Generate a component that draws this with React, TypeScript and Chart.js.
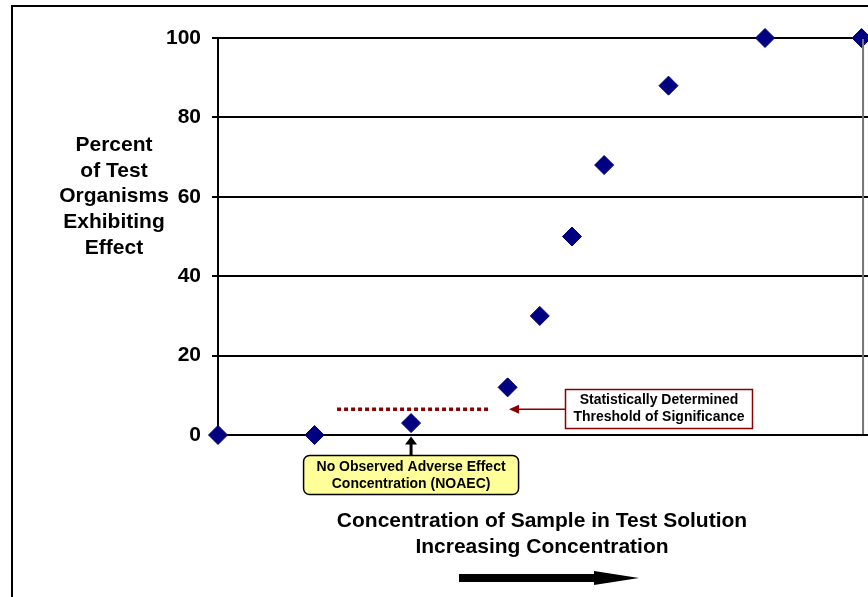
import React, { useEffect, useRef } from "react";
import { Chart, registerables } from "chart.js";

Chart.register(...registerables);

// ---- data ----
const concentrations = [0, 3, 6, 9, 10, 11, 12, 14, 17, 20];
const percentEffect = [0, 0, 3, 12, 30, 50, 68, 88, 100, 100];
const yTickValues = [0, 20, 40, 60, 80, 100];
const thresholdLevel = 6.5;
const thresholdRange = [3.7, 8.45];
const noaecConcentration = 6;
const yTitleLines = ["Percent", "of Test", "Organisms", "Exhibiting", "Effect"];
const xTitleLines = ["Concentration of Sample in Test Solution", "Increasing Concentration"];
const thresholdLabel = ["Statistically Determined", "Threshold of Significance"];
const noaecLabel = ["No Observed Adverse Effect", "Concentration (NOAEC)"];

const FONT = "'Liberation Sans', Arial, Helvetica, sans-serif";
const NAVY = "#000080";
const DARK_RED = "#8B0000";

const annotationPlugin = {
  id: "annotations",
  beforeDraw(chart: any) {
    const ctx = chart.ctx;
    ctx.save();
    ctx.fillStyle = "#ffffff";
    ctx.fillRect(0, 0, chart.width, chart.height);
    // outer frame
    ctx.strokeStyle = "#000";
    ctx.lineWidth = 2;
    ctx.strokeRect(12, 6, chart.width + 40, chart.height + 40);
    ctx.restore();
  },
  afterDatasetsDraw(chart: any) {
    const ctx = chart.ctx;
    const xs = chart.scales.x;
    const ys = chart.scales.y;
    const area = chart.chartArea;
    ctx.save();

    // right border of plot area (gray)
    const rx = xs.getPixelForValue(20) + 1.5;
    ctx.strokeStyle = "#777";
    ctx.lineWidth = 2;
    ctx.beginPath();
    ctx.moveTo(rx, area.top + 1);
    ctx.lineTo(rx, area.bottom - 1);
    ctx.stroke();

    // y title (horizontal lines)
    ctx.fillStyle = "#000";
    ctx.font = `bold 21px ${FONT}`;
    ctx.textAlign = "center";
    ctx.textBaseline = "middle";
    yTitleLines.forEach((t, i) => ctx.fillText(t, 114, 145 + i * 25.8));

    // x title
    const cx = 542;
    xTitleLines.forEach((t, i) => ctx.fillText(t, cx, 521 + i * 26));

    // bottom big arrow
    ctx.fillStyle = "#000";
    ctx.fillRect(459, 574, 137, 8);
    ctx.beginPath();
    ctx.moveTo(594, 571);
    ctx.lineTo(639, 578);
    ctx.lineTo(594, 585);
    ctx.closePath();
    ctx.fill();

    // threshold label box
    const ty = ys.getPixelForValue(thresholdLevel);
    ctx.fillStyle = "#fff";
    ctx.fillRect(565.5, 389.5, 187, 39);
    ctx.strokeStyle = DARK_RED;
    ctx.lineWidth = 1.5;
    ctx.strokeRect(565.5, 389.5, 187, 39);
    ctx.fillStyle = "#000";
    ctx.font = `bold 14px ${FONT}`;
    thresholdLabel.forEach((t, i) => ctx.fillText(t, 659, 400.5 + i * 17));

    // red arrow to threshold
    ctx.strokeStyle = DARK_RED;
    ctx.lineWidth = 1.5;
    ctx.beginPath();
    ctx.moveTo(565, ty);
    ctx.lineTo(517, ty);
    ctx.stroke();
    ctx.fillStyle = DARK_RED;
    ctx.beginPath();
    ctx.moveTo(509, ty);
    ctx.lineTo(519, ty - 4.5);
    ctx.lineTo(519, ty + 4.5);
    ctx.closePath();
    ctx.fill();

    // NOAEC box
    const nx = xs.getPixelForValue(noaecConcentration);
    ctx.fillStyle = "#FFFF99";
    ctx.strokeStyle = "#000";
    ctx.lineWidth = 1.5;
    ctx.beginPath();
    (ctx as any).roundRect(nx - 107.5, 455.5, 215, 39, 6);
    ctx.fill();
    ctx.stroke();
    ctx.fillStyle = "#000";
    noaecLabel.forEach((t, i) => ctx.fillText(t, nx, 467.5 + i * 16.5));

    // black arrow up to NOAEC point
    ctx.strokeStyle = "#000";
    ctx.lineWidth = 3;
    ctx.beginPath();
    ctx.moveTo(nx, 455);
    ctx.lineTo(nx, 442);
    ctx.stroke();
    ctx.beginPath();
    ctx.moveTo(nx, 436.5);
    ctx.lineTo(nx - 6, 444.5);
    ctx.lineTo(nx + 6, 444.5);
    ctx.closePath();
    ctx.fill();

    ctx.restore();
  },
};

export default function App() {
  const ref = useRef<HTMLCanvasElement | null>(null);

  useEffect(() => {
    document.body.style.margin = "0";
    const canvas = ref.current;
    if (!canvas) return;
    const chart = new Chart(canvas, {
      type: "scatter",
      data: {
        datasets: [
          {
            label: "threshold",
            data: thresholdRange.map((x) => ({ x, y: thresholdLevel })),
            showLine: true,
            borderColor: DARK_RED,
            borderWidth: 3.5,
            borderDash: [4, 3],
            borderCapStyle: "butt",
            pointRadius: 0,
            pointHoverRadius: 0,
            order: 2,
          } as any,
          {
            label: "Percent Effect",
            data: concentrations.map((x, i) => ({ x, y: percentEffect[i] })),
            pointStyle: "rectRot",
            pointRadius: 9.5,
            pointHoverRadius: 9.5,
            backgroundColor: NAVY,
            borderColor: NAVY,
            borderWidth: 1,
            clip: false,
            order: 1,
          } as any,
        ],
      },
      options: {
        animation: false,
        responsive: false,
        devicePixelRatio: 1,
        layout: { autoPadding: false, padding: { top: 38, right: 0, bottom: 0, left: 0 } },
        plugins: {
          legend: { display: false },
          tooltip: { enabled: false },
        },
        events: [],
        scales: {
          x: {
            type: "linear",
            min: 0,
            max: 20.2,
            ticks: { display: false },
            grid: { display: false, drawTicks: false },
            border: { display: false },
            afterFit: (s: any) => {
              s.height = 162;
            },
          },
          y: {
            type: "linear",
            min: 0,
            max: 100,
            afterBuildTicks: (s: any) => {
              s.ticks = yTickValues.map((v) => ({ value: v }));
            },
            ticks: {
              color: "#000",
              padding: 11,
              font: { family: FONT, size: 21, weight: "bold" },
            },
            grid: { color: "#000", lineWidth: 2, tickLength: 6, drawTicks: true },
            border: { color: "#000", width: 2 },
            afterFit: (s: any) => {
              s.width = 218;
            },
          },
        },
      } as any,
      plugins: [annotationPlugin],
    });
    return () => chart.destroy();
  }, []);

  return <canvas ref={ref} width={868} height={597} style={{ display: "block" }} />;
}
